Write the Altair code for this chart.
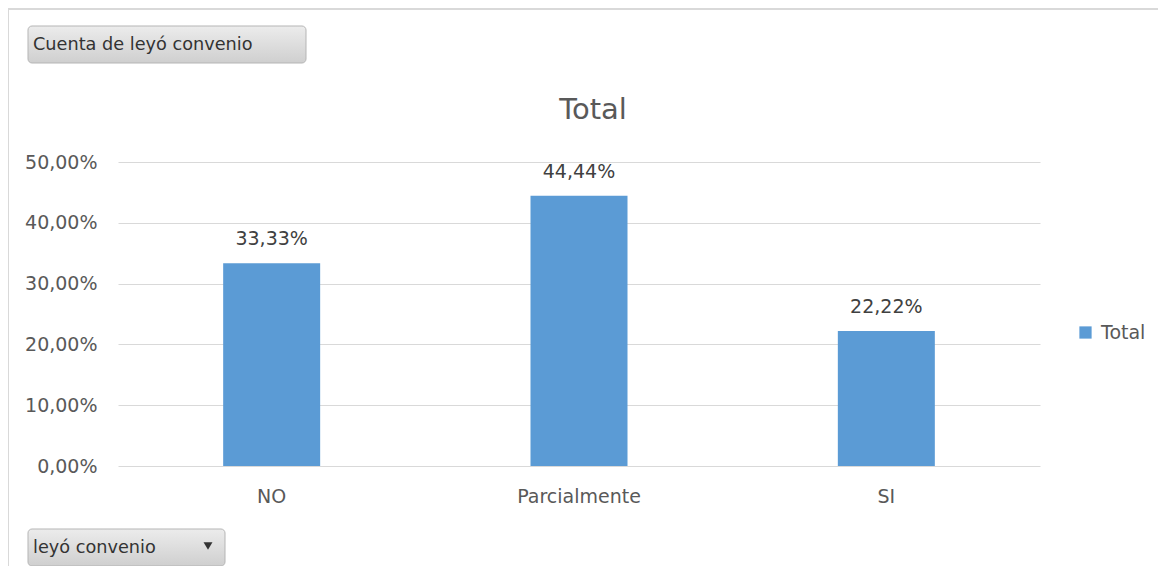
import altair as alt
import pandas as pd

categories = ["NO", "Parcialmente", "SI"]
values = [0.3333, 0.4444, 0.2222]
series = ["Total", "Total", "Total"]
y_ticks = [0, 0.1, 0.2, 0.3, 0.4, 0.5]

df = pd.DataFrame({"cat": categories, "val": values, "serie": series})

FONT = "DejaVu Sans"
GRAY = "#595959"

W, H = 922, 304

xenc = alt.X("cat:N", sort=categories, title=None,
             scale=alt.Scale(paddingInner=0.684, paddingOuter=0.342),
             axis=alt.Axis(labelAngle=0, labelFontSize=19, labelColor=GRAY,
                           labelFont=FONT, labelPadding=21, ticks=False,
                           domain=False, grid=False))
yenc = alt.Y("val:Q", title=None,
             scale=alt.Scale(domain=[0, 0.5], nice=False),
             axis=alt.Axis(values=y_ticks, labelFontSize=19, labelColor=GRAY,
                           labelFont=FONT, labelPadding=21, ticks=False,
                           domain=False, gridColor="#d9d9d9", gridWidth=1,
                           labelExpr="replace(format(datum.value, '.2%'), '.', ',')"))

bars = alt.Chart(df).mark_bar(size=97).encode(
    x=xenc, y=yenc,
    color=alt.Color("serie:N", title=None,
                    scale=alt.Scale(range=["#5b9bd5"]),
                    legend=alt.Legend(orient="none", legendX=958, legendY=161,
                                      symbolType="square", symbolSize=150,
                                      symbolStrokeWidth=0, labelFontSize=19,
                                      labelColor=GRAY, labelFont=FONT,
                                      labelOffset=6)),
)

labels = alt.Chart(df).mark_text(dy=-14, baseline="bottom", fontSize=19,
                                 font=FONT, color="#404040").encode(
    x=alt.X("cat:N", sort=categories),
    y="val:Q",
    text=alt.Text("lbl:N"),
).transform_calculate(lbl="replace(format(datum.val, '.2%'), '.', ',')")

title = alt.Chart(pd.DataFrame({"t": ["Total"]})).mark_text(
    fontSize=29, font=FONT, color=GRAY, baseline="alphabetic", align="center"
).encode(x=alt.value(475), y=alt.value(-43), text="t:N")

border = alt.Chart(pd.DataFrame({"a": [1]})).mark_rect(
    fill="white", fillOpacity=0, stroke="#d9d9d9", strokeWidth=2
).encode(x=alt.value(-110), x2=alt.value(1045), y=alt.value(-153), y2=alt.value(430))

grad = alt.Gradient(gradient="linear",
                    stops=[alt.GradientStop(color="#ececec", offset=0),
                           alt.GradientStop(color="#cfcfcf", offset=1)],
                    x1=0, x2=0, y1=0, y2=1)

btn1 = alt.Chart(pd.DataFrame({"a": [1]})).mark_rect(
    fill=grad, stroke="#b5b5b5", strokeWidth=1, cornerRadius=4
).encode(x=alt.value(-90), x2=alt.value(188), y=alt.value(-136), y2=alt.value(-99))
btn1_t = alt.Chart(pd.DataFrame({"t": ["Cuenta de leyó convenio"]})).mark_text(
    fontSize=17.7, font=FONT, color="#333333", align="left", baseline="middle"
).encode(x=alt.value(-85), y=alt.value(-117), text="t:N")

btn2 = alt.Chart(pd.DataFrame({"a": [1]})).mark_rect(
    fill=grad, stroke="#b5b5b5", strokeWidth=1, cornerRadius=4
).encode(x=alt.value(-90), x2=alt.value(107), y=alt.value(367), y2=alt.value(404))
btn2_t = alt.Chart(pd.DataFrame({"t": ["leyó convenio"]})).mark_text(
    fontSize=17.7, font=FONT, color="#333333", align="left", baseline="middle"
).encode(x=alt.value(-85), y=alt.value(386), text="t:N")
btn2_arrow = alt.Chart(pd.DataFrame({"a": [1]})).mark_point(
    shape="triangle-down", filled=True, color="#333333", size=80, opacity=1
).encode(x=alt.value(90), y=alt.value(384))

chart = alt.layer(border, bars, labels, title, btn1, btn1_t, btn2, btn2_t, btn2_arrow).properties(
    width=W, height=H,
    background="white",
    autosize=alt.AutoSizeParams(type="none"),
    padding={"left": 110, "top": 154, "right": 118, "bottom": 100},
).configure_view(strokeWidth=0, stroke=None)

chart.save("out.html", embed_options={"renderer": "svg", "actions": False})
